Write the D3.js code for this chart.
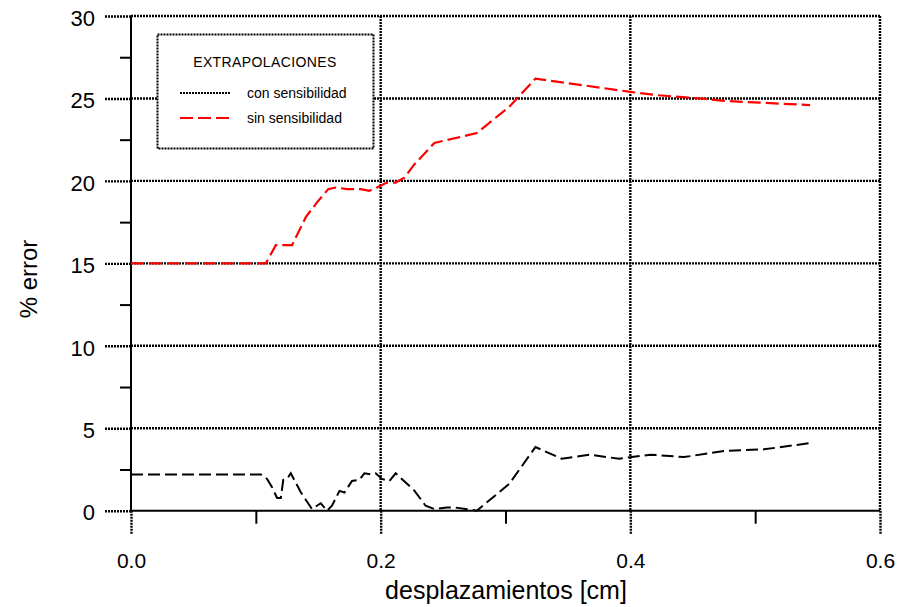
<!DOCTYPE html>
<html>
<head>
<meta charset="utf-8">
<script src="https://cdn.jsdelivr.net/npm/d3@7"></script>
<style>
  body { margin: 0; background: #fff; }
  text { font-family: Arial, "Liberation Sans", sans-serif; fill: #000; }
</style>
</head>
<body>
<svg id="chart" width="899" height="607"></svg>
<script>
// Error of the extrapolations versus displacement
const despConSens = [0.0, 0.104, 0.109, 0.113, 0.117, 0.120, 0.122, 0.125, 0.128, 0.136, 0.145, 0.152, 0.157, 0.161, 0.167, 0.171, 0.177, 0.183, 0.187, 0.192, 0.196, 0.201, 0.207, 0.212, 0.227, 0.236, 0.243, 0.253, 0.259, 0.277, 0.303, 0.324, 0.345, 0.367, 0.391, 0.416, 0.443, 0.475, 0.507, 0.544];
const errorConSens = [2.2, 2.2, 1.93, 1.42, 0.77, 0.77, 1.87, 1.93, 2.27, 1.12, 0.1, 0.45, 0.0, 0.3, 1.2, 1.1, 1.8, 1.87, 2.27, 2.2, 2.27, 1.93, 1.8, 2.27, 1.22, 0.3, 0.1, 0.2, 0.2, 0.0, 1.63, 3.86, 3.15, 3.4, 3.15, 3.4, 3.25, 3.62, 3.72, 4.1];

const despSinSens = [0.0, 0.108, 0.116, 0.129, 0.140, 0.149, 0.158, 0.164, 0.173, 0.184, 0.191, 0.197, 0.205, 0.212, 0.219, 0.227, 0.243, 0.277, 0.303, 0.324, 0.400, 0.421, 0.456, 0.475, 0.544];
const errorSinSens = [15.0, 15.0, 16.1, 16.1, 17.8, 18.7, 19.5, 19.6, 19.5, 19.5, 19.4, 19.6, 19.9, 19.9, 20.2, 21.0, 22.3, 22.9, 24.5, 26.2, 25.4, 25.2, 25.0, 24.85, 24.6];

const seriesNames = ["con sensibilidad", "sin sensibilidad"];
const seriesColors = ["#000000", "#ff0000"];
const legendTitle = "EXTRAPOLACIONES";

const xMajorTicks = [0.0, 0.2, 0.4, 0.6];
const xMinorTicks = [0.1, 0.3, 0.5];
const yMajorTicks = [0, 5, 10, 15, 20, 25, 30];
const yMinorTicks = [2.5, 7.5, 12.5, 17.5, 22.5, 27.5];
const xTitle = "desplazamientos [cm]";
const yTitle = "% error";

const svg = d3.select("#chart");
const plotLeft = 131, plotRight = 880, plotTop = 16, plotBottom = 510.7;

const x = d3.scaleLinear().domain([0, 0.6]).range([plotLeft, plotRight]);
const y = d3.scaleLinear().domain([0, 30]).range([plotBottom, plotTop]);

const dotted = "2,1";
const gridWidth = 2.4;

// grid lines
const grid = svg.append("g");
grid.selectAll("line.h").data(yMajorTicks.filter(d => d > 0)).join("line")
  .attr("x1", plotLeft).attr("x2", plotRight)
  .attr("y1", d => y(d)).attr("y2", d => y(d))
  .attr("stroke", "#000").attr("stroke-width", gridWidth).attr("stroke-dasharray", dotted);
grid.selectAll("line.v").data(xMajorTicks.filter(d => d > 0)).join("line")
  .attr("x1", d => x(d)).attr("x2", d => x(d))
  .attr("y1", plotTop).attr("y2", plotBottom)
  .attr("stroke", "#000").attr("stroke-width", gridWidth).attr("stroke-dasharray", dotted);

// y axis: major ticks with labels, minor ticks
const yAxis = svg.append("g").attr("transform", `translate(${plotLeft},0)`)
  .call(d3.axisLeft(y).tickValues(yMajorTicks).tickSize(26).tickPadding(10).tickFormat(d3.format("d")));
yAxis.select(".domain").remove();
yAxis.selectAll(".tick line").attr("stroke", "#000").attr("stroke-width", gridWidth).attr("stroke-dasharray", dotted);
yAxis.selectAll(".tick text").attr("font-size", 22).attr("dy", "0.42em")
  .style("font-family", "Arial, 'Liberation Sans', sans-serif");

const yMinor = svg.append("g").attr("transform", `translate(${plotLeft},0)`)
  .call(d3.axisLeft(y).tickValues(yMinorTicks).tickSize(11).tickFormat(""));
yMinor.select(".domain").remove();
yMinor.selectAll(".tick line").attr("stroke", "#000").attr("stroke-width", 2);

// x axis: major ticks with labels, minor ticks
const xAxis = svg.append("g").attr("transform", `translate(0,${plotBottom})`)
  .call(d3.axisBottom(x).tickValues(xMajorTicks).tickSize(24).tickPadding(18).tickFormat(d3.format(".1f")));
xAxis.select(".domain").remove();
xAxis.selectAll(".tick line").attr("stroke", "#000").attr("stroke-width", gridWidth).attr("stroke-dasharray", dotted);
xAxis.selectAll(".tick text").attr("font-size", 21)
  .style("font-family", "Arial, 'Liberation Sans', sans-serif");

const xMinor = svg.append("g").attr("transform", `translate(0,${plotBottom})`)
  .call(d3.axisBottom(x).tickValues(xMinorTicks).tickSize(13).tickFormat(""));
xMinor.select(".domain").remove();
xMinor.selectAll(".tick line").attr("stroke", "#000").attr("stroke-width", 2);

// solid axis lines
svg.append("line").attr("x1", plotLeft).attr("x2", plotLeft).attr("y1", plotTop).attr("y2", plotBottom)
  .attr("stroke", "#000").attr("stroke-width", 2);
svg.append("line").attr("x1", plotLeft).attr("x2", plotRight).attr("y1", plotBottom).attr("y2", plotBottom)
  .attr("stroke", "#000").attr("stroke-width", 2);

// axis titles
svg.append("text").attr("x", 506).attr("y", 599).attr("text-anchor", "middle")
  .attr("font-size", 25).text(xTitle);
svg.append("text").attr("transform", "translate(37,279) rotate(-90)").attr("text-anchor", "middle")
  .attr("font-size", 24).text(yTitle);

// data lines
const line = d3.line().x(d => x(d[0])).y(d => y(d[1]));
const conData = d3.zip(despConSens, errorConSens);
const sinData = d3.zip(despSinSens, errorSinSens);

svg.append("path").datum(conData).attr("d", line)
  .attr("fill", "none").attr("stroke", seriesColors[0]).attr("stroke-width", 2)
  .attr("stroke-dasharray", "12,5");
svg.append("path").datum(sinData).attr("d", line)
  .attr("fill", "none").attr("stroke", seriesColors[1]).attr("stroke-width", 2.2)
  .attr("stroke-dasharray", "13,5");

// legend
const lg = svg.append("g");
lg.append("rect").attr("x", 157.5).attr("y", 34.5).attr("width", 216).attr("height", 114)
  .attr("fill", "#fff").attr("stroke", "#000").attr("stroke-width", 2).attr("stroke-dasharray", dotted);
lg.append("text").attr("x", 265).attr("y", 67).attr("text-anchor", "middle")
  .attr("font-size", 14).attr("letter-spacing", 0.4).text(legendTitle);
const legendRows = [
  { name: seriesNames[0], color: seriesColors[0], dash: "2,1", y: 93 },
  { name: seriesNames[1], color: seriesColors[1], dash: "13,5", y: 118 }
];
legendRows.forEach(r => {
  lg.append("line").attr("x1", 180).attr("x2", 231).attr("y1", r.y).attr("y2", r.y)
    .attr("stroke", r.color).attr("stroke-width", 2).attr("stroke-dasharray", r.dash);
  lg.append("text").attr("x", 247).attr("y", r.y + 5).attr("font-size", 14).text(r.name);
});
</script>
</body>
</html>
